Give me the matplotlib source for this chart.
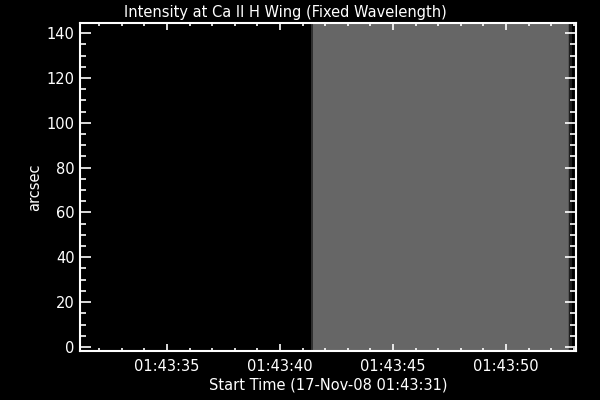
import matplotlib
matplotlib.use('Agg')
import matplotlib.pyplot as plt
import numpy as np
from matplotlib.ticker import MultipleLocator, FuncFormatter

# time axis in seconds after 01:43:00
x_range = [31.15, 53.10]
y_range = [-1.8, 144.5]

# image columns: edges (s) and intensity (0 = black, 1 = white)
col_edges = [31.15, 41.37, 41.46, 52.73, 52.79, 52.92, 53.10]
col_values = [0.0, 0.19, 0.40, 0.33, 0.12, 0.0]
row_edges = [-1.8, 144.5]

title = 'Intensity at Ca II H Wing (Fixed Wavelength)'
xlabel = 'Start Time (17-Nov-08 01:43:31)'
ylabel = 'arcsec'


def time_label(s, pos):
    return '01:43:%02d' % int(round(s))


fig = plt.figure(figsize=(6, 4), dpi=100, facecolor='black')
ax = fig.add_axes([80 / 600, 49 / 400, 496 / 600, 328 / 400], facecolor='black')

img = np.array([col_values])
ax.pcolormesh(col_edges, row_edges, img, cmap='gray', vmin=0, vmax=1, shading='flat')

ax.set_xlim(x_range)
ax.set_ylim(y_range)

ax.xaxis.set_major_locator(MultipleLocator(5))
ax.xaxis.set_minor_locator(MultipleLocator(1))
ax.xaxis.set_major_formatter(FuncFormatter(time_label))
ax.yaxis.set_major_locator(MultipleLocator(20))
ax.yaxis.set_minor_locator(MultipleLocator(5))

for s in ax.spines.values():
    s.set_color('white')
    s.set_linewidth(1.5)

ax.tick_params(axis='both', which='both', direction='in', colors='white',
               top=True, right=True, labelsize=10.5, width=1.2)
ax.tick_params(axis='x', which='major', length=5, pad=6)
ax.tick_params(axis='x', which='minor', length=2.5)
ax.tick_params(axis='y', which='major', length=8, pad=4)
ax.tick_params(axis='y', which='minor', length=4)

# title sits a bit left of the plot centre, as in the original
ax.set_title(title, color='white', fontsize=10.5, pad=4, x=(285 - 80) / 496)
ax.set_xlabel(xlabel, color='white', fontsize=10.5, labelpad=2)
ax.set_ylabel(ylabel, color='white', fontsize=10.5, labelpad=3)

fig.savefig('out.png', dpi=100, facecolor='black')
